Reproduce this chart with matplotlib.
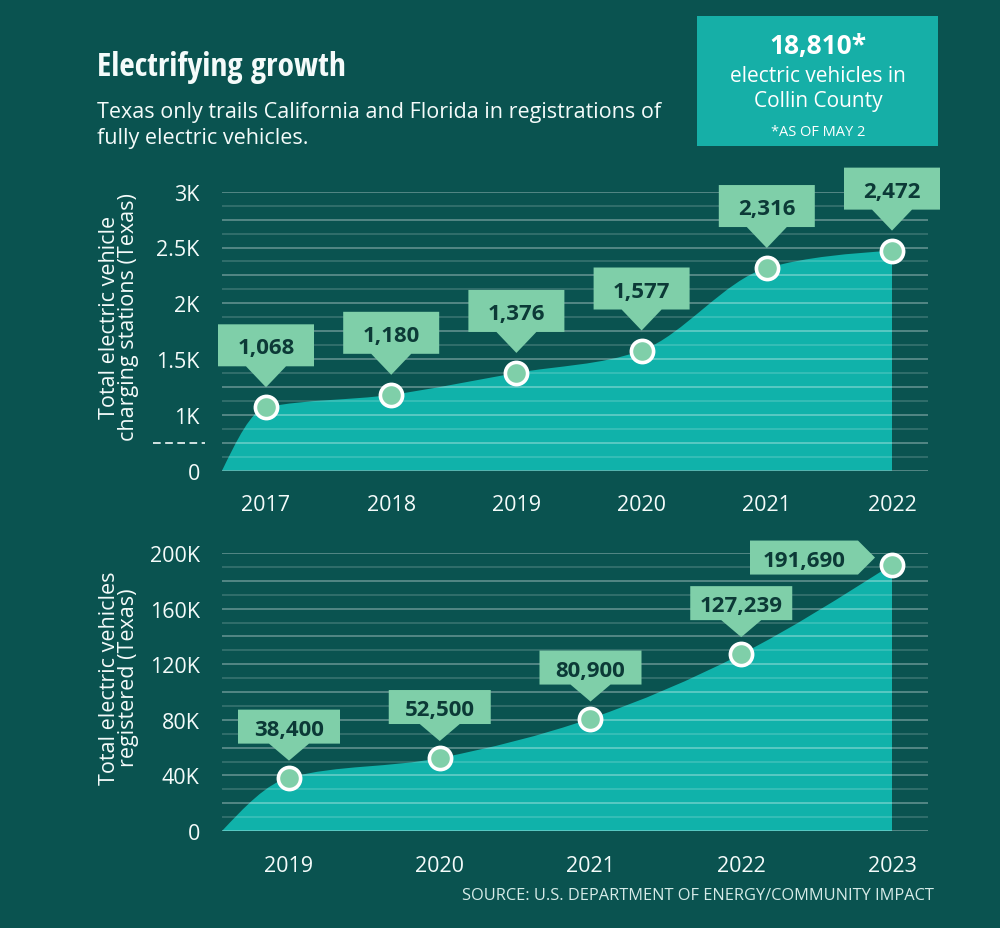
import numpy as np
import matplotlib
matplotlib.use("Agg")
import matplotlib.pyplot as plt
from matplotlib.path import Path
from matplotlib.patches import PathPatch, Polygon, Rectangle
import matplotlib.transforms as mtransforms

# data
station_years = [2017, 2018, 2019, 2020, 2021, 2022]
stations = [1068, 1180, 1376, 1577, 2316, 2472]
ev_years = [2019, 2020, 2021, 2022, 2023]
ev_registered = [38400, 52500, 80900, 127239, 191690]

station_ticks = [500, 1000, 1500, 2000, 2500, 3000]
station_ticklabels = ["0", "1K", "1.5K", "2K", "2.5K", "3K"]
ev_ticks = [0, 40000, 80000, 120000, 160000, 200000]
ev_ticklabels = ["0", "40K", "80K", "120K", "160K", "200K"]

BG = "#0a5350"
FILL = "#10b2aa"
MINT = "#7fcfa9"
DARK = "#0c3a37"
WHITE = "#f4fbfa"

plt.rcParams["font.family"] = ["Open Sans", "DejaVu Sans"]

fig = plt.figure(figsize=(10, 9.29), dpi=100)
fig.patch.set_facecolor(BG)


def px(x, y):
    return x / 1000, 1 - y / 929


def monotone_area(xs, ys, x0, base):
    # smooth monotone (d3 curveMonotoneX style) area as bezier path
    x = np.array([x0] + list(xs), dtype=float)
    y = np.array([base] + list(ys), dtype=float)
    h = np.diff(x)
    s = np.diff(y) / h
    n = len(x)
    t = np.zeros(n)
    for i in range(1, n - 1):
        p = (s[i - 1] * h[i] + s[i] * h[i - 1]) / (h[i - 1] + h[i])
        t[i] = (np.sign(s[i - 1]) + np.sign(s[i])) * min(abs(s[i - 1]), abs(s[i]), 0.5 * abs(p))
    t[0] = (3 * s[0] - t[1]) / 2
    t[-1] = (3 * s[-1] - t[-2]) / 2
    verts = [(x[0], y[0])]
    codes = [Path.MOVETO]
    for i in range(n - 1):
        d = h[i] / 3
        verts += [(x[i] + d, y[i] + d * t[i]), (x[i + 1] - d, y[i + 1] - d * t[i + 1]), (x[i + 1], y[i + 1])]
        codes += [Path.CURVE4] * 3
    verts += [(x[-1], base), (x[0], base)]
    codes += [Path.LINETO, Path.CLOSEPOLY]
    return Path(verts, codes)


def callout(ax, x, y, label, w, h, gap, tip, fs):
    trans = fig.dpi_scale_trans + mtransforms.ScaledTranslation(x, y, ax.transData)
    tw = 20
    verts = np.array([(-w / 2, gap + h), (w / 2, gap + h), (w / 2, gap), (tw, gap),
                      (0, tip), (-tw, gap), (-w / 2, gap)]) / 100
    ax.add_patch(Polygon(verts, closed=True, transform=trans, facecolor=MINT,
                         edgecolor="none", zorder=4, clip_on=False))
    ax.text(0, (gap + h / 2) / 100, label, transform=trans, ha="center", va="center_baseline",
            fontsize=fs, fontweight="bold", color=DARK, zorder=5)


def callout_left(ax, x, y, label, w, h, fs):
    trans = fig.dpi_scale_trans + mtransforms.ScaledTranslation(x, y, ax.transData)
    r, cy = -34, 7
    verts = np.array([(r - w, cy + h / 2), (r, cy + h / 2), (-17, cy),
                      (r, cy - h / 2), (r - w, cy - h / 2)]) / 100
    ax.add_patch(Polygon(verts, closed=True, transform=trans, facecolor=MINT,
                         edgecolor="none", zorder=4, clip_on=False))
    ax.text((r - w / 2) / 100, cy / 100, label, transform=trans, ha="center", va="center_baseline",
            fontsize=fs, fontweight="bold", color=DARK, zorder=5)


def setup(ax, ticks, ticklabels, years, grid_step, ylim):
    ax.set_facecolor("none")
    for sp in ax.spines.values():
        sp.set_visible(False)
    ax.set_ylim(*ylim)
    ax.set_yticks(ticks)
    ax.set_yticklabels(ticklabels)
    ax.set_xticks(years)
    ax.set_xticklabels([str(v) for v in years])
    ax.tick_params(length=0, labelsize=15.5, colors=WHITE)
    ax.tick_params(axis="y", pad=16)
    ax.tick_params(axis="x", pad=17)
    levels = np.arange(ylim[0], ylim[1] + grid_step / 2, grid_step)
    for k, lv in enumerate(levels):
        ax.axhline(lv, color="white", lw=1.1, alpha=0.38 if k % 2 == 0 else 0.2, zorder=2)


# top chart: charging stations
ax1 = fig.add_axes([0.222, 1 - 471.7 / 929, 0.706, (471.7 - 192.7) / 929])
x1_left = 2017 - 44 / 125.2
ax1.set_xlim(x1_left, 2022 + 36 / 125.2)
setup(ax1, station_ticks, station_ticklabels, station_years, 125, (500, 3000))
ax1.add_patch(PathPatch(monotone_area(station_years, stations, x1_left, 500),
                        facecolor=FILL, edgecolor="none", zorder=1))
ax1.plot(station_years, stations, "o", ms=16, mfc=MINT, mec="white", mew=2.6, zorder=6, clip_on=False)
for xv, yv in zip(station_years, stations):
    callout(ax1, xv, yv, f"{yv:,}", 96, 42, 41, 20, 16)
# axis break dashes
brk = mtransforms.blended_transform_factory(ax1.transAxes, ax1.transData)
ax1.plot([(153 - 222) / 706, (205 - 222) / 706], [750, 750], transform=brk, color=WHITE,
         lw=1.2, ls=(0, (4.6, 2.7)), clip_on=False)

# bottom chart: registered vehicles
ax2 = fig.add_axes([0.222, 1 - 832 / 929, 0.706, (832 - 554) / 929])
x2_left = 2019 - 67 / 150.75
ax2.set_xlim(x2_left, 2023 + 36 / 150.75)
setup(ax2, ev_ticks, ev_ticklabels, ev_years, 10000, (0, 200000))
ax2.add_patch(PathPatch(monotone_area(ev_years, ev_registered, x2_left, 0),
                        facecolor=FILL, edgecolor="none", zorder=1))
ax2.plot(ev_years, ev_registered, "o", ms=16, mfc=MINT, mec="white", mew=2.6, zorder=6, clip_on=False)
for xv, yv in zip(ev_years[:-1], ev_registered[:-1]):
    callout(ax2, xv, yv, f"{yv:,}", 102, 34, 34, 17, 16)
callout_left(ax2, ev_years[-1], ev_registered[-1], f"{ev_registered[-1]:,}", 108, 34, 16)

# axis titles
fig.text(*px(119, 317), "Total electric vehicle\ncharging stations (Texas)", rotation=90,
         ha="center", va="center", multialignment="center", fontsize=15.5, color=WHITE, linespacing=0.9)
fig.text(*px(119, 678), "Total electric vehicles\nregistered (Texas)", rotation=90,
         ha="center", va="center", multialignment="center", fontsize=15.5, color=WHITE, linespacing=0.9)

# headings
fig.text(*px(97, 76), "Electrifying growth", fontsize=24, fontweight="bold", color=WHITE,
         family=["Open Sans Condensed", "DejaVu Sans"], fontstretch="condensed", va="baseline")
fig.text(*px(97, 118), "Texas only trails California and Florida in registrations of", fontsize=15.5,
         color=WHITE, va="baseline")
fig.text(*px(97, 144), "fully electric vehicles.", fontsize=15.5, color=WHITE, va="baseline")

# highlight box
x0, y0 = px(697, 147)
fig.add_artist(Rectangle((x0, y0), 241 / 1000, 130 / 929, transform=fig.transFigure,
                         facecolor="#16afa7", edgecolor="none"))
fig.text(*px(818, 54), "18,810*", fontsize=19, fontweight="bold", color="white", ha="center", va="baseline")
fig.text(*px(818, 82), "electric vehicles in", fontsize=15, color="white", ha="center", va="baseline")
fig.text(*px(818, 107), "Collin County", fontsize=15, color="white", ha="center", va="baseline")
fig.text(*px(818, 136), "*AS OF MAY 2", fontsize=10.5, color="white", ha="center", va="baseline")

fig.text(*px(934, 900), "SOURCE: U.S. DEPARTMENT OF ENERGY/COMMUNITY IMPACT", fontsize=11.8,
         color="#d6ebe8", ha="right", va="baseline")

fig.savefig("out.png", dpi=100, facecolor=BG)
